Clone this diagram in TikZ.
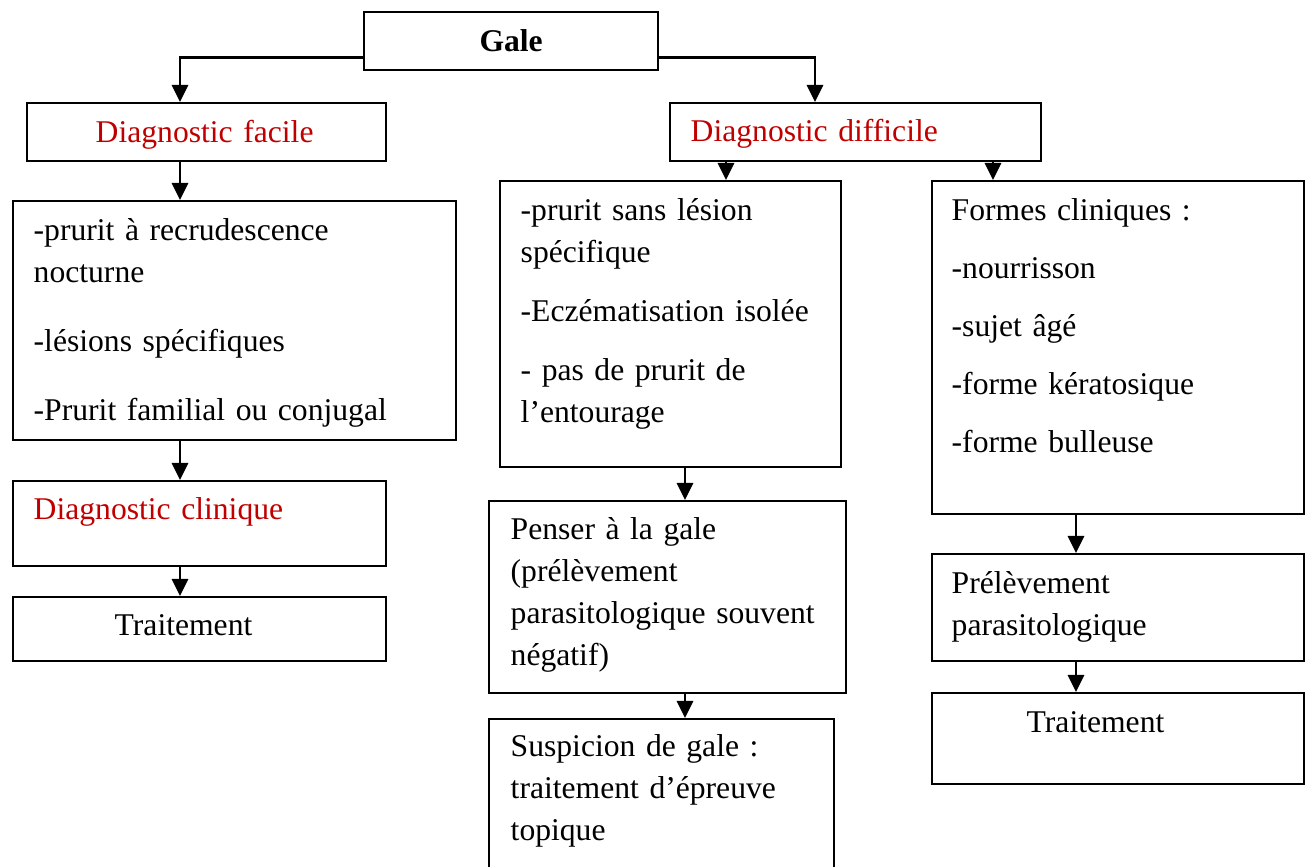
\documentclass[tikz,border=0pt]{standalone}
\usepackage{fontspec}
\setmainfont{Liberation Serif}
\usetikzlibrary{arrows.meta,positioning,calc}
\definecolor{dRed}{RGB}{192,0,0}

\tikzset{
  box/.style={draw, line width=0.65pt, anchor=north west, inner sep=0pt},
  txt/.style={anchor=base west, align=left, inner sep=0pt, text width=#1},
  arr/.style={line width=0.8pt, -{Triangle[width=0.16cm,length=0.17cm]}},
}

\begin{document}
\begin{tikzpicture}[font=\fontsize{9pt}{11.95pt}\selectfont]
    \useasboundingbox (0,0) rectangle (13.10,-8.67);

    % boxes
    \node[box, minimum width=2.94cm, minimum height=0.58cm, font=\fontsize{9pt}{11.95pt}\selectfont\bfseries] (gale) at (3.63,-0.11) {Gale};
    \node[box, minimum width=3.59cm, minimum height=0.58cm] (facile) at (0.26,-1.02) {};
    \node[box, minimum width=3.71cm, minimum height=0.58cm] (difficile) at (6.69,-1.02) {};
    \node[box, minimum width=4.43cm, minimum height=2.39cm] (signes) at (0.12,-2.00) {};
    \node[box, minimum width=3.73cm, minimum height=0.85cm] (clinique) at (0.12,-4.80) {};
    \node[box, minimum width=3.73cm, minimum height=0.64cm] (traitA) at (0.12,-5.96) {};
    \node[box, minimum width=3.41cm, minimum height=2.86cm] (atypique) at (4.99,-1.80) {};
    \node[box, minimum width=3.57cm, minimum height=1.92cm] (penser) at (4.88,-5.00) {};
    \node[box, minimum width=3.45cm, minimum height=1.70cm] (suspicion) at (4.88,-7.18) {};
    \node[box, minimum width=3.72cm, minimum height=3.33cm] (formes) at (9.31,-1.80) {};
    \node[box, minimum width=3.72cm, minimum height=1.07cm] (prelev) at (9.31,-5.53) {};
    \node[box, minimum width=3.72cm, minimum height=0.91cm] (traitB) at (9.31,-6.92) {};

    % texts
    \node[txt=3cm, text=dRed] (facT) at (0.95,-1.43) {Diagnostic facile};
    \node[txt=3cm, text=dRed] (difT) at (6.90,-1.42) {Diagnostic difficile};
    \node[txt=4.1cm] (signT) at (0.33,-2.41) {-prurit à recrudescence\\nocturne\\[0.27cm]-lésions spécifiques\\[0.27cm]-Prurit familial ou conjugal};
    \node[txt=3.3cm, text=dRed] (cliT) at (0.33,-5.20) {Diagnostic clinique};
    \node[txt=2cm] (traAT) at (1.14,-6.36) {Traitement};
    \node[txt=3.1cm] (atyT) at (5.20,-2.21) {-prurit sans lésion\\spécifique\\[0.17cm]-Eczématisation isolée\\[0.17cm]- pas de prurit de\\l’entourage};
    \node[txt=3.3cm] (penT) at (5.10,-5.40) {Penser à la gale\\(prélèvement\\parasitologique souvent\\négatif)};
    \node[txt=3.2cm] (susT) at (5.10,-7.57) {Suspicion de gale :\\traitement d’épreuve\\topique};
    \node[txt=3.4cm] (forT) at (9.51,-2.21) {Formes cliniques :\\[0.16cm]-nourrisson\\[0.16cm]-sujet âgé\\[0.16cm]-forme kératosique\\[0.16cm]-forme bulleuse};
    \node[txt=3.4cm] (prT) at (9.51,-5.94) {Prélèvement\\parasitologique};
    \node[txt=2cm] (traBT) at (10.26,-7.33) {Traitement};

    % arrow columns
    \coordinate (cA) at (1.80,0);
    \coordinate (cB) at (8.15,0);
    \coordinate (cC) at (7.26,0);
    \coordinate (cD) at (9.93,0);
    \coordinate (cE) at (6.85,0);
    \coordinate (cF) at (10.76,0);

    \draw[arr] ([yshift=-0.16cm]gale.west) -| (facile.north -| cA);
    \draw[arr] ([yshift=-0.16cm]gale.east) -| (difficile.north -| cB);
    \draw[arr] (facile.south -| cA) -- (signes.north -| cA);
    \draw[arr] (signes.south -| cA) -- (clinique.north -| cA);
    \draw[arr] (clinique.south -| cA) -- (traitA.north -| cA);
    \draw[arr] (difficile.south -| cC) -- (atypique.north -| cC);
    \draw[arr] (difficile.south -| cD) -- (formes.north -| cD);
    \draw[arr] (atypique.south -| cE) -- (penser.north -| cE);
    \draw[arr] (penser.south -| cE) -- (suspicion.north -| cE);
    \draw[arr] (formes.south -| cF) -- (prelev.north -| cF);
    \draw[arr] (prelev.south -| cF) -- (traitB.north -| cF);
\end{tikzpicture}
\end{document}
